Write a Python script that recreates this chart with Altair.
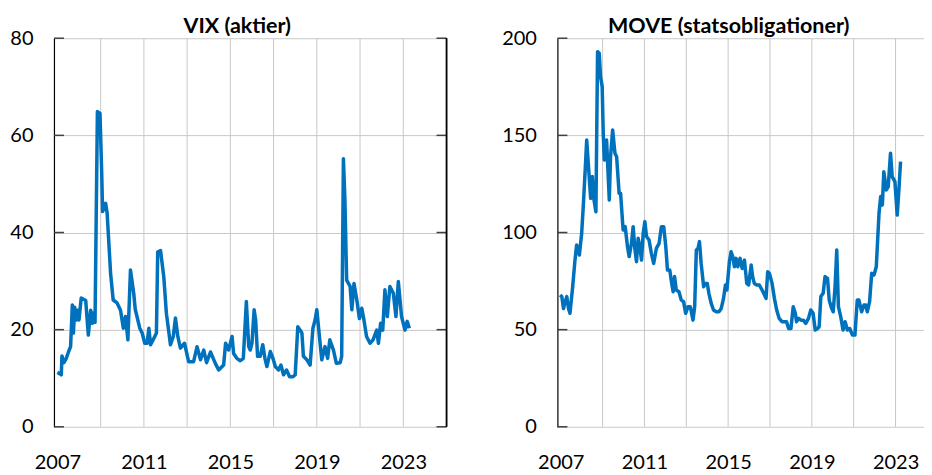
import altair as alt
import pandas as pd

# ---- data ----
vix_year = [2007.00, 2007.12, 2007.18, 2007.21, 2007.30, 2007.40, 2007.52, 2007.61, 2007.69, 2007.74,
            2007.80, 2007.88, 2007.95, 2008.00, 2008.10, 2008.31, 2008.43, 2008.54, 2008.62, 2008.68,
            2008.74, 2008.85, 2008.97, 2009.05, 2009.09, 2009.23, 2009.30, 2009.46, 2009.58, 2009.76,
            2009.92, 2010.05, 2010.15, 2010.26, 2010.38, 2010.53, 2010.60, 2010.81, 2010.92, 2011.04,
            2011.15, 2011.23, 2011.31, 2011.46, 2011.58, 2011.64, 2011.77, 2011.92, 2012.04, 2012.23,
            2012.36, 2012.46, 2012.57, 2012.69, 2012.88, 2013.07, 2013.30, 2013.46, 2013.62, 2013.77,
            2013.90, 2014.08, 2014.31, 2014.46, 2014.69, 2014.78, 2014.92, 2015.08, 2015.15, 2015.30,
            2015.46, 2015.60, 2015.74, 2015.85, 2015.92, 2016.00, 2016.10, 2016.17, 2016.26, 2016.38,
            2016.50, 2016.60, 2016.69, 2016.85, 2016.97, 2017.08, 2017.23, 2017.34, 2017.46, 2017.60,
            2017.74, 2017.90, 2018.00, 2018.12, 2018.23, 2018.31, 2018.38, 2018.54, 2018.69, 2018.82,
            2018.92, 2019.00, 2019.12, 2019.23, 2019.38, 2019.50, 2019.60, 2019.77, 2019.90, 2020.08,
            2020.15, 2020.23, 2020.30, 2020.38, 2020.54, 2020.62, 2020.72, 2020.85, 2020.97, 2021.08,
            2021.18, 2021.30, 2021.46, 2021.60, 2021.77, 2021.85, 2021.95, 2022.05, 2022.15, 2022.26,
            2022.38, 2022.54, 2022.66, 2022.77, 2022.92, 2023.00, 2023.08, 2023.18, 2023.28]
vix_value = [11.2, 10.9, 10.7, 14.6, 13.2, 14.0, 15.5, 16.5, 25.1, 19.3,
             24.6, 22.0, 24.0, 22.0, 26.5, 26.0, 18.9, 24.0, 21.3, 23.5,
             21.5, 64.9, 64.5, 52.2, 44.3, 46.0, 44.0, 31.6, 26.1, 25.5,
             24.0, 20.3, 22.7, 17.9, 32.3, 27.5, 24.2, 20.3, 19.3, 17.2,
             17.2, 20.3, 16.9, 18.2, 19.3, 36.0, 36.3, 30.9, 23.4, 16.9,
             18.6, 22.4, 18.6, 16.2, 17.2, 13.4, 13.4, 16.5, 13.8, 15.8,
             13.2, 15.4, 13.0, 11.7, 12.7, 17.2, 15.8, 18.6, 15.1, 14.1,
             13.6, 14.1, 25.8, 16.5, 15.8, 17.2, 24.1, 22.0, 14.5, 14.5,
             16.9, 14.1, 12.4, 15.5, 14.1, 12.4, 11.7, 12.7, 10.7, 11.7,
             10.3, 10.3, 10.7, 20.6, 19.9, 19.3, 14.5, 13.8, 12.7, 20.3,
             22.0, 24.1, 18.6, 13.8, 16.5, 14.1, 17.9, 15.8, 13.1, 13.2,
             14.5, 55.2, 46.7, 30.2, 28.9, 24.1, 29.5, 26.1, 22.3, 24.4,
             22.0, 18.6, 17.2, 17.9, 19.9, 17.2, 21.3, 19.9, 28.2, 22.7,
             28.9, 27.5, 22.7, 29.9, 22.7, 21.3, 19.9, 21.7, 20.3]

move_year = [2006.97, 2007.05, 2007.13, 2007.21, 2007.29, 2007.37, 2007.44, 2007.57, 2007.68, 2007.76,
             2007.89, 2008.00, 2008.08, 2008.16, 2008.24, 2008.37, 2008.43, 2008.51, 2008.59, 2008.68,
             2008.76, 2008.84, 2008.90, 2008.98, 2009.03, 2009.08, 2009.19, 2009.32, 2009.38, 2009.48,
             2009.59, 2009.67, 2009.79, 2009.86, 2009.98, 2010.08, 2010.19, 2010.27, 2010.38, 2010.46,
             2010.54, 2010.62, 2010.70, 2010.78, 2010.86, 2010.94, 2011.02, 2011.10, 2011.22, 2011.33,
             2011.44, 2011.57, 2011.70, 2011.81, 2011.92, 2012.02, 2012.10, 2012.21, 2012.29, 2012.37,
             2012.44, 2012.52, 2012.65, 2012.76, 2012.87, 2012.97, 2013.08, 2013.19, 2013.32, 2013.40,
             2013.48, 2013.56, 2013.63, 2013.71, 2013.83, 2013.92, 2014.00, 2014.08, 2014.19, 2014.30,
             2014.43, 2014.56, 2014.67, 2014.78, 2014.87, 2014.94, 2015.06, 2015.14, 2015.22, 2015.30,
             2015.38, 2015.46, 2015.57, 2015.67, 2015.78, 2015.89, 2015.98, 2016.10, 2016.17, 2016.25,
             2016.37, 2016.49, 2016.62, 2016.70, 2016.81, 2016.89, 2016.97, 2017.10, 2017.21, 2017.32,
             2017.44, 2017.57, 2017.68, 2017.79, 2017.89, 2018.00, 2018.11, 2018.21, 2018.27, 2018.37,
             2018.48, 2018.59, 2018.71, 2018.84, 2018.95, 2019.06, 2019.16, 2019.27, 2019.35, 2019.43,
             2019.54, 2019.63, 2019.75, 2019.83, 2019.92, 2020.02, 2020.11, 2020.19, 2020.27, 2020.38,
             2020.49, 2020.59, 2020.70, 2020.81, 2020.94, 2021.06, 2021.17, 2021.25, 2021.38, 2021.49,
             2021.57, 2021.65, 2021.76, 2021.86, 2021.97, 2022.08, 2022.21, 2022.29, 2022.37, 2022.44,
             2022.56, 2022.65, 2022.76, 2022.84, 2022.97, 2023.08, 2023.16, 2023.24]
move_value = [67.8, 67.0, 60.9, 64.4, 67.0, 60.9, 58.4, 72.1, 85.8, 93.6,
              88.4, 99.6, 114.2, 130.5, 147.6, 127.0, 117.6, 128.8, 116.7, 110.7,
              193.1, 192.3, 180.3, 175.1, 151.1, 137.3, 147.6, 116.7, 139.0, 152.8,
              140.8, 139.0, 120.2, 120.2, 101.3, 103.0, 92.7, 87.6, 94.4, 103.0,
              91.8, 85.0, 97.0, 92.7, 85.8, 99.6, 105.6, 97.9, 96.1, 89.3,
              84.1, 91.8, 94.4, 103.0, 103.0, 92.7, 80.7, 80.7, 74.7, 69.5,
              77.3, 70.4, 69.5, 65.2, 64.4, 58.4, 61.8, 61.8, 54.9, 61.8,
              91.0, 91.8, 95.3, 84.1, 72.1, 73.8, 73.8, 68.7, 63.5, 60.1,
              59.2, 59.2, 60.9, 66.1, 73.0, 70.4, 85.0, 90.1, 87.6, 82.4,
              86.7, 82.4, 86.7, 81.5, 85.8, 73.8, 73.0, 83.3, 77.3, 73.8,
              73.0, 73.0, 70.4, 68.7, 66.1, 79.8, 79.0, 73.8, 66.1, 60.1,
              55.8, 54.1, 54.1, 54.1, 50.6, 50.6, 61.8, 58.4, 54.1, 55.8,
              54.9, 54.9, 53.2, 55.8, 60.1, 58.4, 49.8, 50.6, 51.5, 67.0,
              68.7, 77.3, 76.4, 65.2, 61.8, 59.2, 72.1, 91.0, 61.8, 56.7,
              49.8, 54.1, 49.8, 50.6, 47.2, 47.2, 65.2, 65.2, 59.2, 62.7,
              62.7, 59.2, 64.4, 79.0, 78.1, 82.4, 109.9, 118.5, 114.2, 131.3,
              121.9, 123.6, 140.8, 128.8, 126.2, 109.0, 121.9, 136.5]

label_years = [2007, 2011, 2015, 2019, 2023]
grid_years = [2009, 2011, 2013, 2015, 2017, 2019, 2021, 2023]
vix_ticks = [0, 20, 40, 60, 80]
move_ticks = [0, 50, 100, 150, 200]

LINE = "#0071BC"
GRID = "#C8C8C8"
FONT = "Lato"
H = 389


def panel(years, values, title, ymax, yticks, width, xmax, dx, border):
    df = pd.DataFrame({"year": years, "value": values})
    gdf = pd.DataFrame({"year": grid_years})
    tdf = pd.DataFrame({"value": yticks})
    xs = alt.Scale(domain=[2006.84, xmax], nice=False, zero=False)
    ys = alt.Scale(domain=[0, ymax], nice=False)
    xaxis = alt.Axis(values=label_years, format="d", grid=False, domain=False,
                     ticks=False, labelPadding=26, title=None, labelFlush=False)
    yaxis = alt.Axis(values=yticks, grid=True, gridColor=GRID, gridWidth=1,
                     domain=True, domainColor="#000000", domainWidth=1.2,
                     ticks=False, labelPadding=21, title=None)

    vgrid = alt.Chart(gdf).mark_rule(color=GRID, strokeWidth=1).encode(
        x=alt.X("year:Q", scale=xs, axis=xaxis),
        y=alt.value(0), y2=alt.value(H))

    line = alt.Chart(df).mark_line(color=LINE, strokeWidth=3.5, strokeJoin="round").encode(
        x=alt.X("year:Q", scale=xs, axis=xaxis),
        y=alt.Y("value:Q", scale=ys, axis=yaxis))

    lticks = alt.Chart(tdf).mark_rule(color="#404040", strokeWidth=1.5).encode(
        y=alt.Y("value:Q", scale=ys, axis=yaxis), x=alt.value(0), x2=alt.value(10))
    layers = [vgrid, line, lticks]
    if border:
        rticks = alt.Chart(tdf).mark_rule(color="#404040", strokeWidth=1.5).encode(
            y=alt.Y("value:Q", scale=ys, axis=yaxis), x=alt.value(width - 10), x2=alt.value(width))
        rborder = alt.Chart(tdf).mark_rule(color="#000000", strokeWidth=1.2).encode(
            x=alt.value(width), y=alt.value(0), y2=alt.value(H))
        layers += [rticks, rborder]

    return alt.layer(*layers).properties(
        width=width, height=H,
        title=alt.TitleParams(title, font=FONT, fontSize=21.5, fontWeight="bold", color="#000000",
                              frame="group", anchor="middle", dx=dx, offset=-26,
                              baseline="alphabetic"))


left = panel(vix_year, vix_value, "VIX (aktier)", 80, vix_ticks, 393, 2025, -13, True)
right = panel(move_year, move_value, "MOVE (statsobligationer)", 200, move_ticks, 367, 2024.36, -12, False)

chart = alt.hconcat(left, right, spacing=54).properties(
    padding={"left": 1, "top": 7, "right": 0, "bottom": 0}
).configure_view(stroke=None).configure_axis(
    labelFont=FONT, labelFontSize=20, labelColor="#000000"
)

chart.save("out.html", embed_options={"renderer": "svg", "actions": False})
